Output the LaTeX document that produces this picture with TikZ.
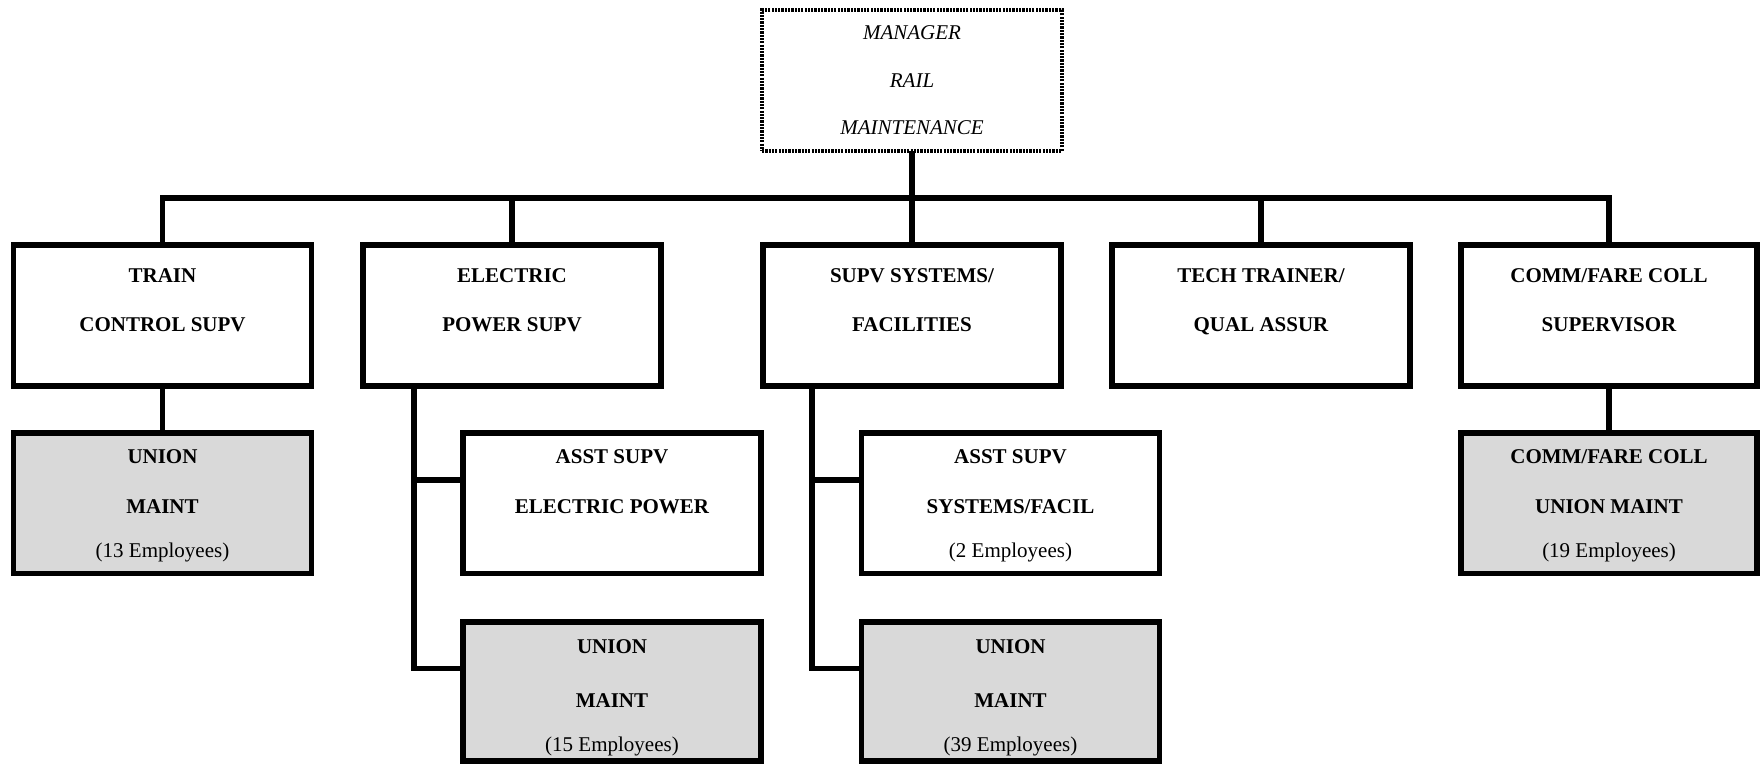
\documentclass[tikz,border=0pt]{standalone}
\usepackage{fontspec}
\setmainfont{Liberation Serif}
\definecolor{boxgray}{HTML}{D9D9D9}
% one line of text inside a box: name, box, drop below the box top, text
\newcommand\boxline[4]{\node[txt] (#1) at ([yshift=-#3pt]#2.north) {#4};}
\begin{document}
\begin{tikzpicture}[x=1pt,y=-1pt,
  box/.style={draw, line width=5.5pt, rectangle, fill=white,
    minimum width=298pt, inner sep=0pt, outer sep=0pt},
  rowone/.style={box, minimum height=141pt},
  rowtwo/.style={box, minimum height=140.5pt},
  unionbox/.style={box, fill=boxgray, minimum height=140.5pt},
  unionlow/.style={box, fill=boxgray, minimum height=139pt},
  mgrbox/.style={draw, line width=4pt, dash pattern=on 2.2pt off 1.1pt,
    rectangle, minimum width=300pt, minimum height=141pt,
    inner sep=0pt, outer sep=0pt},
  conn/.style={line width=5.5pt},
  txt/.style={anchor=base, inner sep=0pt, font=\fontsize{21}{25}\selectfont\bfseries},
  mtxt/.style={txt, font=\fontsize{21}{25}\selectfont\itshape},
  etxt/.style={txt, font=\fontsize{21}{25}\selectfont},
]
\useasboundingbox (0,0) rectangle (1760,764);

% manager
\node[mgrbox] (mgr) at (912,80.5) {};

% first level
\node[rowone] (tc) at (162.5,315.5) {};
\node[rowone] (ep) at (512,315.5) {};
\node[rowone] (ss) at (912,315.5) {};
\node[rowone] (tt) at (1261,315.5) {};
\node[rowone, minimum width=296pt] (cf) at (1609,315.5) {};

% second level
\node[unionbox] (tcu) at (162.5,503) {};
\node[rowtwo] (ea) at (612,503) {};
\node[rowtwo] (sa) at (1010.5,503) {};
\node[unionbox, minimum width=296pt] (cfu) at (1609,503) {};

% third level
\node[unionlow] (epu) at (612,691.5) {};
\node[unionlow] (ssu) at (1010.5,691.5) {};

% connectors
\draw[conn] (mgr.south) -- (ss.north);
\draw[conn] (tc.north) -- ++(0,-47) -| (cf.north);
\draw[conn] (ep.north) -- ++(0,-47);
\draw[conn] (tt.north) -- ++(0,-47);
\draw[conn] (tc.south) -- (tcu.north);
\draw[conn] (cf.south) -- (cfu.north);
\draw[conn] ([xshift=51pt]ep.south west) |- ([yshift=-47pt]ea.north west);
\draw[conn] ([xshift=51pt]ep.south west) |- ([yshift=-46.5pt]epu.north west);
\draw[conn] ([xshift=49pt]ss.south west) |- ([yshift=-47pt]sa.north west);
\draw[conn] ([xshift=49pt]ss.south west) |- ([yshift=-46.5pt]ssu.north west);

% texts
\node[mtxt] (mgr1) at ([yshift=-29pt]mgr.north) {MANAGER};
\node[mtxt] (mgr2) at ([yshift=-77pt]mgr.north) {RAIL};
\node[mtxt] (mgr3) at ([yshift=-124.5pt]mgr.north) {MAINTENANCE};

\boxline{tc1}{tc}{37.5}{TRAIN}
\boxline{tc2}{tc}{86.5}{CONTROL SUPV}
\boxline{ep1}{ep}{37.5}{ELECTRIC}
\boxline{ep2}{ep}{86.5}{POWER SUPV}
\boxline{ss1}{ss}{37.5}{SUPV SYSTEMS/}
\boxline{ss2}{ss}{86.5}{FACILITIES}
\boxline{tt1}{tt}{37.5}{TECH TRAINER/}
\boxline{tt2}{tt}{86.5}{QUAL ASSUR}
\boxline{cf1}{cf}{37.5}{COMM/FARE COLL}
\boxline{cf2}{cf}{86.5}{SUPERVISOR}

\boxline{tcu1}{tcu}{31}{UNION}
\boxline{tcu2}{tcu}{80.5}{MAINT}
\node[etxt] (tcu3) at ([yshift=-124.5pt]tcu.north) {(13 Employees)};
\boxline{ea1}{ea}{31}{ASST SUPV}
\boxline{ea2}{ea}{80.5}{ELECTRIC POWER}
\boxline{sa1}{sa}{31}{ASST SUPV}
\boxline{sa2}{sa}{80.5}{SYSTEMS/FACIL}
\node[etxt] (sa3) at ([yshift=-124.5pt]sa.north) {(2 Employees)};
\boxline{cfu1}{cfu}{31}{COMM/FARE COLL}
\boxline{cfu2}{cfu}{80.5}{UNION MAINT}
\node[etxt] (cfu3) at ([yshift=-124.5pt]cfu.north) {(19 Employees)};

\boxline{epu1}{epu}{31.5}{UNION}
\boxline{epu2}{epu}{85.5}{MAINT}
\node[etxt] (epu3) at ([yshift=-129.5pt]epu.north) {(15 Employees)};
\boxline{ssu1}{ssu}{31.5}{UNION}
\boxline{ssu2}{ssu}{85.5}{MAINT}
\node[etxt] (ssu3) at ([yshift=-129.5pt]ssu.north) {(39 Employees)};
\end{tikzpicture}
\end{document}
